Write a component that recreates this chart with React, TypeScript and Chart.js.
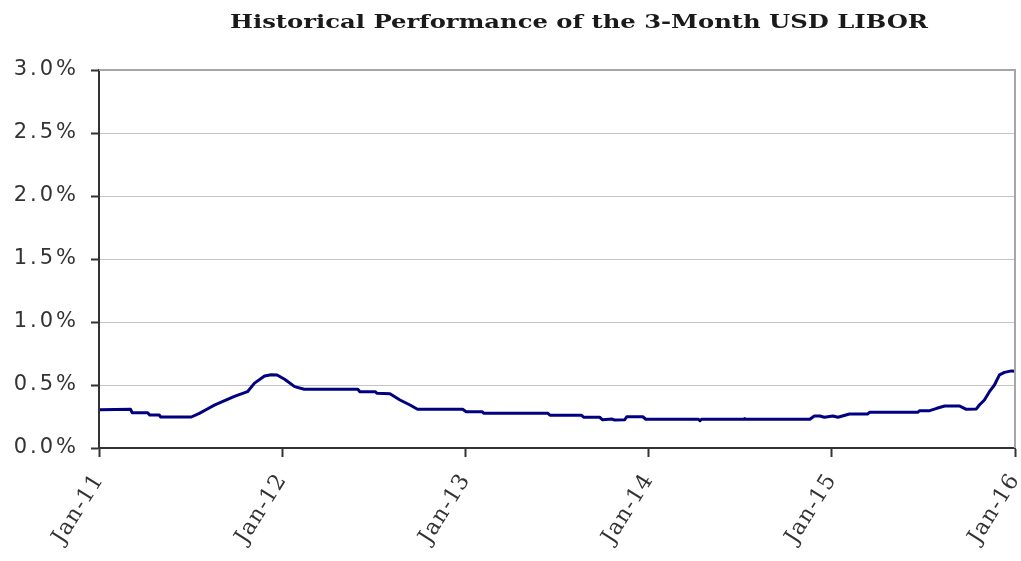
import React, { useEffect, useRef } from "react";
import { Chart, registerables } from "chart.js";

Chart.register(...registerables);

const TITLE = "Historical Performance of the 3-Month USD LIBOR";

// 3-month USD LIBOR (%)
const DATES = [
  "2011-01-03", "2011-03-05", "2011-03-08", "2011-04-08", "2011-04-12", "2011-05-01",
  "2011-05-04", "2011-07-04", "2011-07-20", "2011-08-05", "2011-08-19", "2011-09-05",
  "2011-09-28", "2011-10-24", "2011-11-07", "2011-11-27", "2011-12-10", "2011-12-22",
  "2012-01-06", "2012-01-26", "2012-02-14", "2012-05-31", "2012-06-04", "2012-07-05",
  "2012-07-08", "2012-08-03", "2012-08-23", "2012-09-12", "2012-09-27", "2012-12-26",
  "2013-01-02", "2013-02-03", "2013-02-06", "2013-06-14", "2013-06-18", "2013-08-20",
  "2013-08-24", "2013-09-25", "2013-10-01", "2013-10-20", "2013-10-25", "2013-11-14",
  "2013-11-18", "2013-12-20", "2013-12-26", "2014-04-10", "2014-04-13", "2014-04-16",
  "2014-07-10", "2014-07-11", "2014-07-12", "2014-11-18", "2014-11-27", "2014-12-08",
  "2014-12-17", "2015-01-03", "2015-01-13", "2015-02-05", "2015-03-13", "2015-03-17",
  "2015-06-21", "2015-06-25", "2015-07-15", "2015-07-29", "2015-08-14", "2015-09-13",
  "2015-09-26", "2015-10-16", "2015-10-22", "2015-11-01", "2015-11-11", "2015-11-21",
  "2015-12-01", "2015-12-11", "2015-12-25", "2016-01-01",
];
const RATES = [
  0.303, 0.307, 0.28, 0.28, 0.262, 0.262,
  0.246, 0.246, 0.275, 0.31, 0.34, 0.37,
  0.41, 0.447, 0.515, 0.571, 0.582, 0.58,
  0.545, 0.487, 0.466, 0.466, 0.447, 0.447,
  0.434, 0.43, 0.381, 0.341, 0.307, 0.307,
  0.288, 0.288, 0.275, 0.275, 0.26, 0.26,
  0.244, 0.244, 0.224, 0.23, 0.222, 0.224,
  0.248, 0.248, 0.228, 0.228, 0.216, 0.228,
  0.228, 0.234, 0.228, 0.228, 0.254, 0.254,
  0.244, 0.254, 0.244, 0.27, 0.27, 0.283,
  0.283, 0.296, 0.296, 0.315, 0.333, 0.333,
  0.307, 0.31, 0.341, 0.381, 0.447, 0.5,
  0.58, 0.6, 0.612, 0.61,
];

const TICK_DATES = ["2011-01-01", "2012-01-01", "2013-01-01", "2014-01-01", "2015-01-01", "2016-01-01"];
const TICK_LABELS = ["Jan-11", "Jan-12", "Jan-13", "Jan-14", "Jan-15", "Jan-16"];

const Y_MIN = 0;
const Y_MAX = 3;
const Y_STEP = 0.5;

const toMs = (d: string) => Date.parse(d + "T00:00:00Z");

const decorPlugin = {
  id: "decor",
  beforeDraw(chart: any) {
    // spacing used for the x labels (drawn before the datasets)
    (chart.ctx as any).letterSpacing = "1px";
  },
  afterDatasetsDraw(chart: any) {
    // spacing used for the y labels (drawn after the datasets, z = 1)
    (chart.ctx as any).letterSpacing = "3px";
  },
  afterDraw(chart: any) {
    const ctx = chart.ctx as CanvasRenderingContext2D;
    const { left, right, top, bottom } = chart.chartArea;
    (ctx as any).letterSpacing = "0px";
    // plot frame (top and right)
    ctx.save();
    ctx.strokeStyle = "#a6a6a6";
    ctx.lineWidth = 2;
    ctx.beginPath();
    ctx.moveTo(left, top);
    ctx.lineTo(right, top);
    ctx.lineTo(right, bottom);
    ctx.stroke();
    ctx.restore();
    // title, stretched horizontally like the reference
    ctx.save();
    ctx.font = 'bold 18px "DejaVu Serif"';
    ctx.fillStyle = "#1a1a1a";
    ctx.textBaseline = "alphabetic";
    ctx.textAlign = "left";
    const target = 698;
    const w0 = ctx.measureText(TITLE).width;
    ctx.translate(230, 28);
    ctx.scale(target / w0, 1);
    ctx.fillText(TITLE, 0, 0);
    ctx.restore();
  },
};

export default function App() {
  const ref = useRef<HTMLCanvasElement | null>(null);

  useEffect(() => {
    if (!ref.current) return;
    const points = DATES.map((d, i) => ({ x: toMs(d), y: RATES[i] }));
    const chart = new Chart(ref.current, {
      type: "line",
      data: {
        datasets: [
          {
            data: points,
            borderColor: "#000080",
            borderWidth: 3,
            borderJoinStyle: "round",
            pointRadius: 0,
            tension: 0,
            fill: false,
          },
        ],
      },
      options: {
        responsive: false,
        animation: false,
        layout: { padding: { top: 70, right: 6, left: 0, bottom: 0 } },
        plugins: {
          legend: { display: false },
          tooltip: { enabled: false },
          title: { display: false },
        },
        scales: {
          x: {
            type: "linear",
            min: toMs(TICK_DATES[0]),
            max: toMs(TICK_DATES[TICK_DATES.length - 1]),
            afterBuildTicks: (s: any) => {
              s.ticks = TICK_DATES.map((d) => ({ value: toMs(d) }));
            },
            afterFit: (s: any) => {
              s.height = 113;
              s.paddingLeft = 0;
              s.paddingRight = 0;
            },
            ticks: {
              autoSkip: false,
              maxRotation: 58,
              minRotation: 58,
              padding: 12,
              color: "#333",
              font: { family: '"DejaVu Serif"', size: 22 },
              callback: (_v: any, i: number) => TICK_LABELS[i],
            },
            grid: {
              drawOnChartArea: false,
              drawTicks: true,
              tickLength: 9,
              tickColor: "#333",
              tickWidth: 2,
            },
            border: { display: true, color: "#333", width: 2 },
          },
          y: {
            min: Y_MIN,
            max: Y_MAX,
            afterFit: (s: any) => {
              s.width = 99;
            },
            ticks: {
              z: 1,
              stepSize: Y_STEP,
              padding: 12,
              color: "#333",
              font: { family: '"DejaVu Sans"', size: 21 },
              callback: (v: any) => Number(v).toFixed(1) + "%",
            },
            grid: {
              color: "#c4c4c4",
              lineWidth: 1,
              drawTicks: true,
              tickLength: 8,
              tickColor: "#333",
              tickWidth: 2,
            },
            border: { display: true, color: "#333", width: 2 },
          },
        },
      },
      plugins: [decorPlugin],
    });
    return () => chart.destroy();
  }, []);

  return (
    <div style={{ position: "absolute", left: 0, top: 0, width: 1021, height: 561, background: "#fff" }}>
      <canvas ref={ref} width={1021} height={561} style={{ display: "block" }} />
    </div>
  );
}
